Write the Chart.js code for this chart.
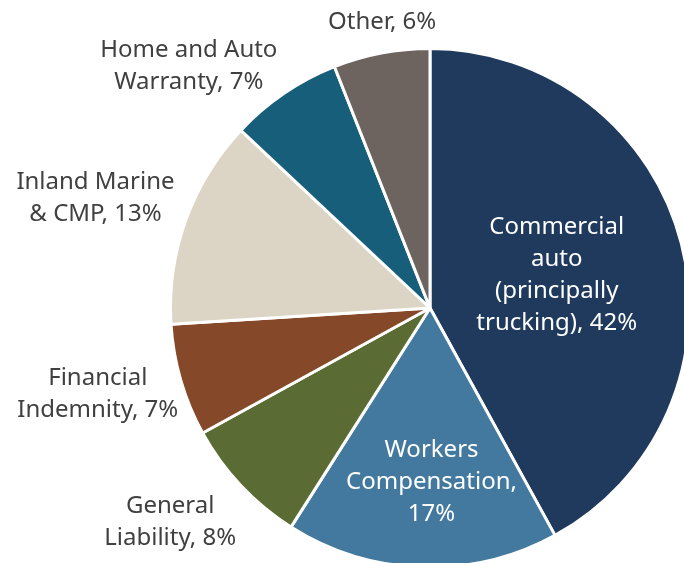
<!DOCTYPE html>
<html>
<head>
<meta charset="utf-8">
<script src="https://cdn.jsdelivr.net/npm/chart.js@4.4.1/dist/chart.umd.min.js"></script>
<style>
    html, body { margin: 0; padding: 0; background: #fff; overflow: hidden; }
    #wrap { position: absolute; left: 0; top: 0; width: 860px; height: 616px; }
</style>
</head>
<body>
<div id="wrap"><canvas id="mixChart"></canvas></div>
<script>
// ================= DATA =================
const categories = [
    "Commercial auto (principally trucking)",
    "Workers Compensation",
    "General Liability",
    "Financial Indemnity",
    "Inland Marine & CMP",
    "Home and Auto Warranty",
    "Other"
];
const shares = [42, 17, 8, 7, 13, 7, 6];
const colors = ["#1F3A5D", "#43799E", "#5A6B34", "#85492A", "#DCD5C6", "#175E7B", "#6D6460"];

// label text broken into lines
const labelLines = [
    ["Commercial", "auto", "(principally", "trucking), " + shares[0] + "%"],
    ["Workers", "Compensation,", shares[1] + "%"],
    ["General", "Liability, " + shares[2] + "%"],
    ["Financial", "Indemnity, " + shares[3] + "%"],
    ["Inland Marine", "& CMP, " + shares[4] + "%"],
    ["Home and Auto", "Warranty, " + shares[5] + "%"],
    ["Other, " + shares[6] + "%"]
];

// ================= LABEL LAYOUT =================
// inside: fraction of radius for labels drawn on the slice (null = outside)
// nudge: small [x, y] correction after the automatic placement
const labelLayout = [
    { inside: 0.52, nudge: [-4, 1] },
    { inside: 0.67, nudge: [7, 0] },
    { inside: null, nudge: [4, 6] },
    { inside: null, nudge: [9, 1] },
    { inside: null, nudge: [0, -7] },
    { inside: null, nudge: [0, 9] },
    { inside: null, nudge: [3, -3] }
];

const FONT = '24px "Noto Sans"';
const LINE_H = 32;

const sliceLabels = {
    id: "sliceLabels",
    afterDatasetsDraw(chart) {
        const ctx = chart.ctx;
        const arcs = chart.getDatasetMeta(0).data;
        ctx.save();
        ctx.font = FONT;
        ctx.textBaseline = "middle";
        ctx.textAlign = "center";
        arcs.forEach((arc, i) => {
            const { x, y, startAngle, endAngle, outerRadius } = arc.getProps(
                ["x", "y", "startAngle", "endAngle", "outerRadius"], true);
            const mid = (startAngle + endAngle) / 2;
            const dx = Math.cos(mid), dy = Math.sin(mid);
            const lines = labelLines[i];
            const lay = labelLayout[i];
            const h = lines.length * LINE_H;
            const w = Math.max(...lines.map(t => ctx.measureText(t).width));
            let cx, cy;
            if (lay.inside !== null) {
                cx = x + dx * outerRadius * lay.inside;
                cy = y + dy * outerRadius * lay.inside;
                ctx.fillStyle = "#FFFFFF";
            } else {
                // text box sits just outside the rim, lines centred inside the box
                const r = outerRadius + 12;
                cx = x + dx * r;
                cy = y + dy * r + dy * h / 2;
                if (Math.abs(dx) >= 0.3) cx += Math.sign(dx) * w / 2;
                ctx.fillStyle = "#404040";
            }
            cx += lay.nudge[0];
            cy += lay.nudge[1];
            lines.forEach((t, k) => {
                ctx.fillText(t, cx, cy - h / 2 + LINE_H * (k + 0.5));
            });
        });
        ctx.restore();
    }
};

// ================= CHART =================
new Chart(document.getElementById("mixChart"), {
    type: "pie",
    data: {
        labels: categories,
        datasets: [{
            data: shares,
            backgroundColor: colors,
            borderColor: "#FFFFFF",
            borderWidth: 3
        }]
    },
    options: {
        responsive: true,
        maintainAspectRatio: false,
        animation: false,
        layout: { padding: { left: 169, right: 169, top: 47, bottom: 47 } },
        plugins: {
            legend: { display: false },
            tooltip: { enabled: false }
        }
    },
    plugins: [sliceLabels]
});
</script>
</body>
</html>
